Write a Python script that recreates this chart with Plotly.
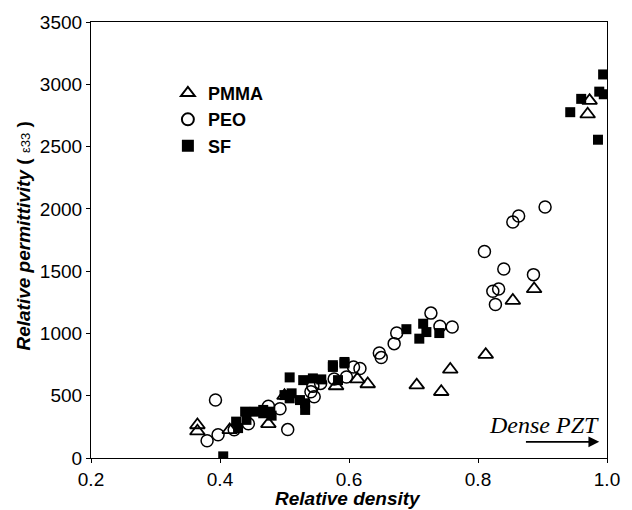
import plotly.graph_objects as go

# PMMA (open triangles)
pmma_x = [0.365, 0.365, 0.415, 0.475, 0.500, 0.580, 0.613, 0.629, 0.705, 0.743, 0.757, 0.812, 0.854, 0.887, 0.970, 0.973]
pmma_y = [265, 215, 225, 274, 500, 578, 633, 594, 585, 532, 711, 830, 1264, 1357, 2760, 2869]

# PEO (open circles)
peo_x = [0.380, 0.397, 0.393, 0.422, 0.444, 0.475, 0.493, 0.505, 0.541, 0.546, 0.544, 0.556, 0.577, 0.596,
         0.607, 0.617, 0.647, 0.650, 0.670, 0.674, 0.727, 0.741, 0.760, 0.810, 0.840, 0.823, 0.832, 0.827,
         0.886, 0.854, 0.863, 0.904]
peo_y = [138, 186, 466, 226, 275, 415, 395, 228, 532, 492, 575, 599, 635, 650,
         731, 719, 843, 806, 918, 1003, 1163, 1057, 1051, 1658, 1517, 1338, 1357, 1232,
         1472, 1895, 1943, 2015]

# SF (filled squares)
sf_x = [0.405, 0.425, 0.428, 0.439, 0.441, 0.454, 0.467, 0.467, 0.478, 0.480, 0.500, 0.508, 0.511, 0.508,
        0.524, 0.532, 0.532, 0.529, 0.544, 0.557, 0.575, 0.593, 0.593, 0.583, 0.575, 0.689, 0.715, 0.720,
        0.709, 0.740, 0.943, 0.960, 0.986, 0.988, 0.995, 0.994]
sf_y = [13, 292, 240, 372, 306, 372, 386, 359, 372, 340, 505, 647, 519, 479,
        465, 439, 386, 625, 639, 631, 731, 759, 771, 625, 745, 1034, 1078, 1011,
        958, 1003, 2776, 2883, 2555, 2941, 2920, 3079]

x_ticks = [0.2, 0.4, 0.6, 0.8, 1.0]
x_tick_labels = ["0.2", "0.4", "0.6", "0.8", "1.0"]
y_ticks = [0, 500, 1000, 1500, 2000, 2500, 3000, 3500]

FONT = "Liberation Sans, Arial, sans-serif"

fig = go.Figure()
fig.add_trace(go.Scatter(
    x=pmma_x, y=pmma_y, mode="markers", name="PMMA",
    marker=dict(symbol="triangle-up-open", size=13, color="black", line=dict(width=1.8, color="black")),
))
fig.add_trace(go.Scatter(
    x=peo_x, y=peo_y, mode="markers", name="PEO",
    marker=dict(symbol="circle-open", size=12, color="black", line=dict(width=1.5, color="black")),
))
fig.add_trace(go.Scatter(
    x=sf_x, y=sf_y, mode="markers", name="SF",
    marker=dict(symbol="square", size=10, color="black", line=dict(width=0)),
))

axis_common = dict(
    showline=True, linecolor="black", linewidth=1.2, mirror=True,
    ticks="outside", ticklen=4, tickcolor="black", tickwidth=1,
    showgrid=False, zeroline=False,
    tickfont=dict(family=FONT, size=19, color="black"),
)

fig.update_layout(
    width=632, height=510,
    margin=dict(l=91, r=25, t=20, b=52),
    paper_bgcolor="white", plot_bgcolor="white",
    showlegend=True,
    legend=dict(
        x=0.149, y=0.879, xanchor="left", yanchor="top",
        font=dict(family=FONT, size=18, color="black", weight="bold"),
        bgcolor="rgba(0,0,0,0)", itemsizing="constant", tracegroupgap=0,
    ),
    xaxis=dict(range=[0.2, 1.0], tickvals=x_ticks, ticktext=x_tick_labels,
               ticklabelstandoff=0, **axis_common),
    yaxis=dict(range=[0, 3500], tickvals=y_ticks, **axis_common),
)

fig.add_annotation(
    text="<b><i>Relative density</i></b>", xref="paper", yref="paper",
    x=0.4985, y=-0.094, xanchor="center", yanchor="middle", showarrow=False,
    font=dict(family=FONT, size=19, color="black"),
)
fig.add_annotation(
    text="<b><i>Relative permittivity</i></b> <b>(</b> <span style='font-size:13px'>ε33</span> <b>)</b>",
    xref="paper", yref="paper",
    x=-0.130, y=0.51, xanchor="center", yanchor="middle", showarrow=False, textangle=-90,
    font=dict(family=FONT, size=19, color="black"),
)
fig.add_annotation(
    text="<i>Dense PZT</i>", xref="x", yref="y", x=0.902, y=266,
    xanchor="center", yanchor="middle", showarrow=False,
    font=dict(family="Liberation Serif, Times New Roman, serif", size=24, color="black"),
)
fig.add_annotation(
    x=0.988, y=130, ax=0.872, ay=130, xref="x", yref="y", axref="x", ayref="y",
    text="", showarrow=True, arrowhead=2, arrowsize=1.2, arrowwidth=1.8, arrowcolor="black",
)

fig.write_html("out.html")
